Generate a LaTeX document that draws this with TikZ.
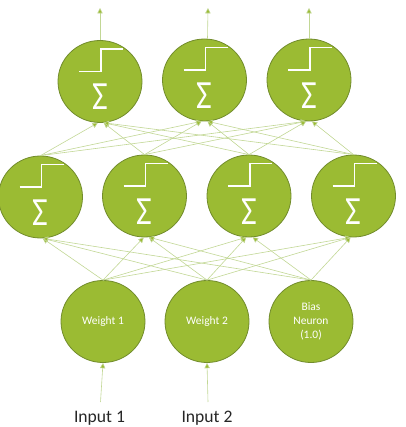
\documentclass[tikz,border=0pt]{standalone}
\usepackage{fontspec}
\setmainfont{Carlito}
\usetikzlibrary{shapes.geometric, arrows.meta}

\definecolor{neurongreen}{HTML}{9BBB33}
\definecolor{neuronedge}{HTML}{728C2C}
\definecolor{wiregreen}{HTML}{C2D795}

\tikzset{
  neuron/.style={ellipse, draw=neuronedge, fill=neurongreen, line width=0.6pt,
    minimum width=63pt, minimum height=61.5pt, inner sep=0pt,
    text=white, font=\fontsize{8.6}{10.7}\selectfont, align=center},
  wire/.style={draw=wiregreen, line width=0.45pt,
    -{Triangle[length=4pt, width=4pt, fill=neurongreen]}},
  stepline/.style={draw=white, line width=1.3pt},
  sumsign/.style={text=white, font=\fontsize{30}{30}\selectfont, inner sep=0pt},
  inputlabel/.style={font=\fontsize{13.2}{15}\selectfont, inner sep=0pt, text=black!85}
}

% step curve and sum sign on a neuron
\newcommand{\neuronmark}[1]{
  \draw[stepline] ([shift={(-21,-10)}]#1.center) -- ([shift={(1,-10)}]#1.center)
    -- ([shift={(1,-32.5)}]#1.center) -- ([shift={(23,-32.5)}]#1.center);
  \node[sumsign, xscale=0.85] (#1sum) at ([shift={(0,15.5)}]#1.center) {Σ};
}

\begin{document}
\begin{tikzpicture}[x=0.75pt, y=-0.75pt]
  \useasboundingbox (0,0) rectangle (405,427);

  % Output layer
  \node[neuron] (out1) at (100,81.5) {};
  \node[neuron] (out2) at (204.5,80) {};
  \node[neuron] (out3) at (309,80) {};
  \neuronmark{out1}
  \neuronmark{out2}
  \neuronmark{out3}

  % Hidden layer
  \node[neuron] (hid1) at (40.5,197) {};
  \node[neuron] (hid2) at (144.5,196) {};
  \node[neuron] (hid3) at (249,196) {};
  \node[neuron] (hid4) at (353.5,196) {};
  \neuronmark{hid1}
  \neuronmark{hid2}
  \neuronmark{hid3}
  \neuronmark{hid4}

  % Input layer
  \node[neuron] (wt1) at (103,321.5) {Weight 1};
  \node[neuron] (wt2) at (207,321.5) {Weight 2};
  \node[neuron] (bias) at (311,321.5) {Bias\\Neuron\\(1.0)};

  % Labels under the inputs
  \node[inputlabel] (in1) at (99.5,418) {Input 1};
  \node[inputlabel] (in2) at (207,418) {Input 2};
  \coordinate (in1top) at (100.5,402);
  \coordinate (in2top) at (208,402);

  % Free ends of the outputs
  \coordinate (end1) at (100,8);
  \coordinate (end2) at (208,8);
  \coordinate (end3) at (309,8);

  \draw[wire] (in1top) -- (wt1.south);
  \draw[wire] (in2top) -- (wt2.south);

  \draw[wire] (out1.north) -- (end1);
  \draw[wire] (out2.north) ++(3,0) -- (end2);
  \draw[wire] (out3.north) -- (end3);

  % Input to hidden
  \draw[wire] (wt1.north) -- (hid1.273);
  \draw[wire] (wt1.north) -- (hid2.269);
  \draw[wire] (wt1.north) -- (hid3.266);
  \draw[wire] (wt1.north) -- (hid4.266);
  \draw[wire] (wt2.north) -- (hid1.273);
  \draw[wire] (wt2.north) -- (hid2.276);
  \draw[wire] (wt2.north) -- (hid3.266);
  \draw[wire] (wt2.north) -- (hid4.266);
  \draw[wire] (bias.north) -- (hid1.273);
  \draw[wire] (bias.north) -- (hid2.276);
  \draw[wire] (bias.north) -- (hid3.275);
  \draw[wire] (bias.north) -- (hid4.266);

  % Hidden to output
  \draw[wire] (hid1.north) -- (out1.267);
  \draw[wire] (hid1.north) -- (out2.266);
  \draw[wire] (hid1.north) -- (out3.266);
  \draw[wire] (hid2.north) -- (out1.275);
  \draw[wire] (hid2.north) -- (out2.266);
  \draw[wire] (hid2.north) -- (out3.266);
  \draw[wire] (hid3.north) -- (out1.275);
  \draw[wire] (hid3.north) -- (out2.274);
  \draw[wire] (hid3.north) -- (out3.266);
  \draw[wire] (hid4.north) -- (out1.275);
  \draw[wire] (hid4.north) -- (out2.274);
  \draw[wire] (hid4.north) -- (out3.274);
\end{tikzpicture}
\end{document}
